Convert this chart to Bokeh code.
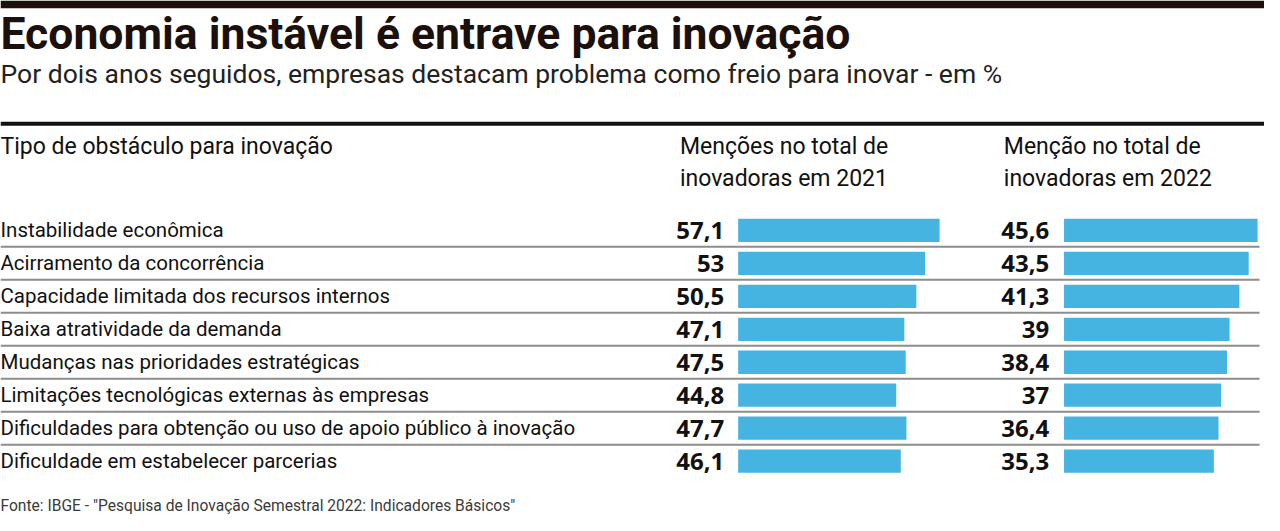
from bokeh.plotting import figure
from bokeh.models import Range1d
from bokeh.core.properties import value
from bokeh.embed import file_html
from bokeh.resources import INLINE

# ---------------- data ----------------
title = "Economia instável é entrave para inovação"
subtitle = "Por dois anos seguidos, empresas destacam problema como freio para inovar - em %"
col_header = "Tipo de obstáculo para inovação"
head_2021 = ["Menções no total de", "inovadoras em 2021"]
head_2022 = ["Menção no total de", "inovadoras em 2022"]
source = 'Fonte: IBGE - "Pesquisa de Inovação Semestral 2022: Indicadores Básicos"'

categories = [
    "Instabilidade econômica",
    "Acirramento da concorrência",
    "Capacidade limitada dos recursos internos",
    "Baixa atratividade da demanda",
    "Mudanças nas prioridades estratégicas",
    "Limitações tecnológicas externas às empresas",
    "Dificuldades para obtenção ou uso de apoio público à inovação",
    "Dificuldade em estabelecer parcerias",
]
v2021 = [57.1, 53, 50.5, 47.1, 47.5, 44.8, 47.7, 46.1]
v2022 = [45.6, 43.5, 41.3, 39, 38.4, 37, 36.4, 35.3]

# ---------------- layout (reference pixel space 1280 x 531) ----------------
W, H = 1280, 531
ROW0, PITCH, BAR_H = 237, 34, 24
B21_LEFT, B21_MAX = 747, 204
B22_LEFT, B22_MAX = 1077, 196
BAR_COLOR = "#46b4e0"
DARK = "#1b100b"
FONT = "Roboto"


def fmt(v):
    return f"{v:g}".replace(".", ",")


n = len(categories)
row_y = [ROW0 + PITCH * i for i in range(n)]

s21 = B21_MAX / max(v2021)
s22 = B22_MAX / max(v2022)

p = figure(width=1264, height=515, output_backend="svg", toolbar_location=None,
           x_range=Range1d(0, W), y_range=Range1d(H, 0), min_border=0,
           background_fill_color="white", border_fill_color="white")
p.axis.visible = False
p.grid.visible = False
p.outline_line_color = None
p.extra_x_ranges = {
    "r21": Range1d(-B21_LEFT / s21, (W - B21_LEFT) / s21),
    "r22": Range1d(-B22_LEFT / s22, (W - B22_LEFT) / s22),
}

# top dark band and thick rule
p.quad(left=0, right=W, top=0, bottom=8, fill_color=DARK, line_color=None)
p.segment(x0=0, x1=W, y0=127, y1=127, line_color="#111111", line_width=4)

# separators between rows
sep_y = [row_y[i] + PITCH / 2 for i in range(n - 1)]
p.segment(x0=[0] * len(sep_y), x1=[1275] * len(sep_y), y0=sep_y, y1=sep_y,
          line_color="#8d8d8d", line_width=2)

# bars
p.hbar(y=row_y, left=0, right=v2021, height=BAR_H, x_range_name="r21",
       fill_color=BAR_COLOR, line_color=None)
p.hbar(y=row_y, left=0, right=v2022, height=BAR_H, x_range_name="r22",
       fill_color=BAR_COLOR, line_color=None)

# titles
p.text(x=[0], y=[35], text=[title], text_font=value(FONT), text_font_style="bold",
       text_font_size="44.5px", text_color=DARK, text_baseline="middle")
p.text(x=[0], y=[75], text=[subtitle], text_font=value(FONT),
       text_font_size="26.5px", text_color="#222222", text_baseline="middle")

# headers
p.text(x=[0], y=[151], text=[col_header], text_font=value(FONT),
       text_font_size="23px", text_color="#111111", text_baseline="middle")
p.text(x=[688, 688], y=[151, 184], text=head_2021, text_font=value(FONT),
       text_font_size="23px", text_color="#111111", text_baseline="middle")
p.text(x=[1016, 1016], y=[151, 184], text=head_2022, text_font=value(FONT),
       text_font_size="23px", text_color="#111111", text_baseline="middle")

# row labels
p.text(x=[0] * n, y=row_y, text=categories, text_font=value(FONT),
       text_font_size="20.5px", text_color="#111111", text_baseline="middle")

# values
p.text(x=[733] * n, y=row_y, text=[fmt(v) for v in v2021], text_font=value("Open Sans"),
       text_font_style="bold", text_font_size="24px", text_color="#111111",
       text_baseline="middle", text_align="right")
p.text(x=[1062] * n, y=row_y, text=[fmt(v) for v in v2022], text_font=value("Open Sans"),
       text_font_style="bold", text_font_size="24px", text_color="#111111",
       text_baseline="middle", text_align="right")

# source
p.text(x=[0], y=[521], text=[source], text_font=value(FONT),
       text_font_size="15.6px", text_color="#3a3a3a", text_baseline="middle")

open("out.html", "w").write(file_html(p, INLINE))
